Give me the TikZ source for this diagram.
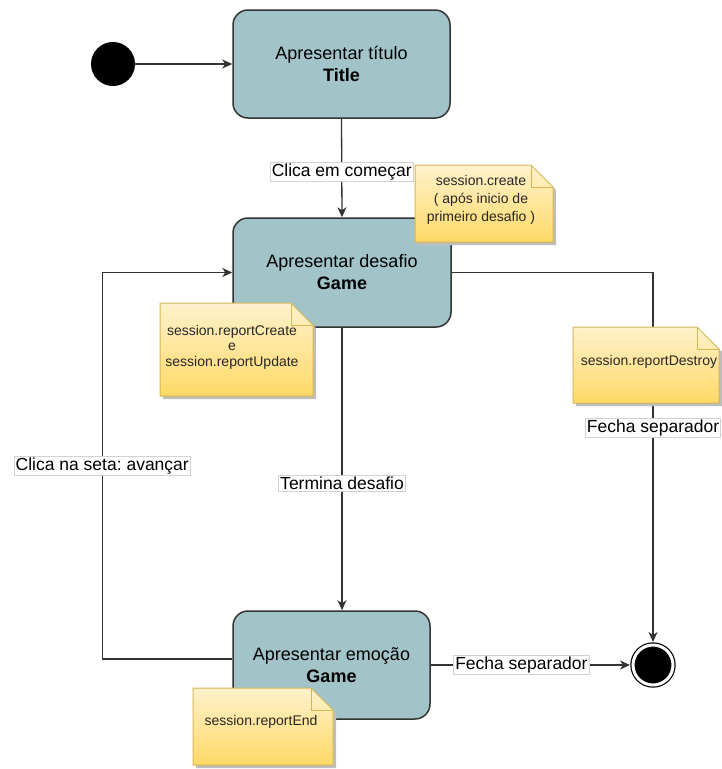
\documentclass[tikz,border=0pt]{standalone}
\usepackage{fontspec}
\setmainfont{Liberation Sans}
\frenchspacing
\usetikzlibrary{arrows.meta, positioning}
\definecolor{statefill}{RGB}{162,196,201}
\definecolor{stateline}{RGB}{51,51,51}
\definecolor{notetop}{RGB}{255,242,204}
\definecolor{notebottom}{RGB}{255,217,102}
\definecolor{noteline}{RGB}{214,182,86}
\definecolor{noteshadow}{RGB}{190,190,190}

\begin{document}
\begin{tikzpicture}[
    x=1pt, y=-1pt,
    state/.style={draw=stateline, fill=statefill, line width=1.5pt, rounded corners=15pt, minimum width=217pt, minimum height=108pt, align=center, font=\fontsize{18}{22}\selectfont},
    arrow/.style={-{Stealth[length=10pt, width=9pt, inset=3pt]}, draw=stateline, line width=1.3pt},
    edgelabel/.style={fill=white, draw=gray!35, line width=0.6pt, inner sep=1.5pt, font=\fontsize{17.5}{20}\selectfont},
    notetext/.style={align=center, text=black!85, font=\fontsize{14}{18}\selectfont},
    initial/.style={circle, fill=black, minimum size=44pt},
    final/.style={circle, draw=black, line width=1.2pt, double=white, double distance=3pt, fill=black, minimum size=40pt, outer sep=3pt}
]

\useasboundingbox (0,0) rectangle (721,769);

% Initial state
\node[initial] (start) at (113,64) {};

% States
\node[state] (titulo) at (341.5,64) {Apresentar título\\\textbf{Title}};
\node[state, minimum width=218pt, minimum height=109pt] (desafio) at (342,272.5) {Apresentar desafio\\\textbf{Game}};
\node[state, minimum width=197pt] (emocao) at (331.5,665) {Apresentar emoção\\\textbf{Game}};

% Final state
\node[final] (fim) at (653,665) {};

% Transitions
\draw[arrow] (start) -- (titulo);
\draw[arrow] (titulo.south) -- node[edgelabel, pos=0.54] {Clica em começar} (desafio.north);
\draw[arrow] (desafio.south) -- node[edgelabel, pos=0.55] {Termina desafio} (desafio.south |- emocao.north);
\draw[arrow] (desafio.east) -| node[edgelabel, pos=0.71] {Fecha separador} (fim.north);
\draw[arrow] (emocao.east) -- node[edgelabel, pos=0.455] {Fecha separador} (fim.west);
\draw[arrow] ([yshift=6pt]emocao.west) -- ++(-130,0) |- node[edgelabel, pos=0.25] {Clica na seta: avançar} (desafio.west);

% Notes
\foreach \xa/\ya/\xb/\yb in {415/165/553/242, 160/303/313/396, 573/327/719/403, 193/688/333/765} {
  \fill[noteshadow] (\xa+3,\ya+3) -- (\xb-19,\ya+3) -- (\xb+3,\ya+25) -- (\xb+3,\yb+3) -- (\xa+3,\yb+3) -- cycle;
  \shade[top color=notetop, bottom color=notebottom, draw=noteline, line width=1pt] (\xa,\ya) -- (\xb-22,\ya) -- (\xb,\ya+22) -- (\xb,\yb) -- (\xa,\yb) -- cycle;
  \draw[noteline, line width=1pt] (\xb-22,\ya) -- (\xb-22,\ya+22) -- (\xb,\ya+22);
}
\node[notetext] (create) at (481,200) {session.create\\( após inicio de\\primeiro desafio )};
\node[notetext, font=\fontsize{14}{15.5}\selectfont] (report) at (232,347) {session.reportCreate\\e\\session.reportUpdate};
\node[notetext] (destroy) at (649,362) {session.reportDestroy};
\node[notetext] (reportend) at (261,722) {session.reportEnd};

\end{tikzpicture}
\end{document}
